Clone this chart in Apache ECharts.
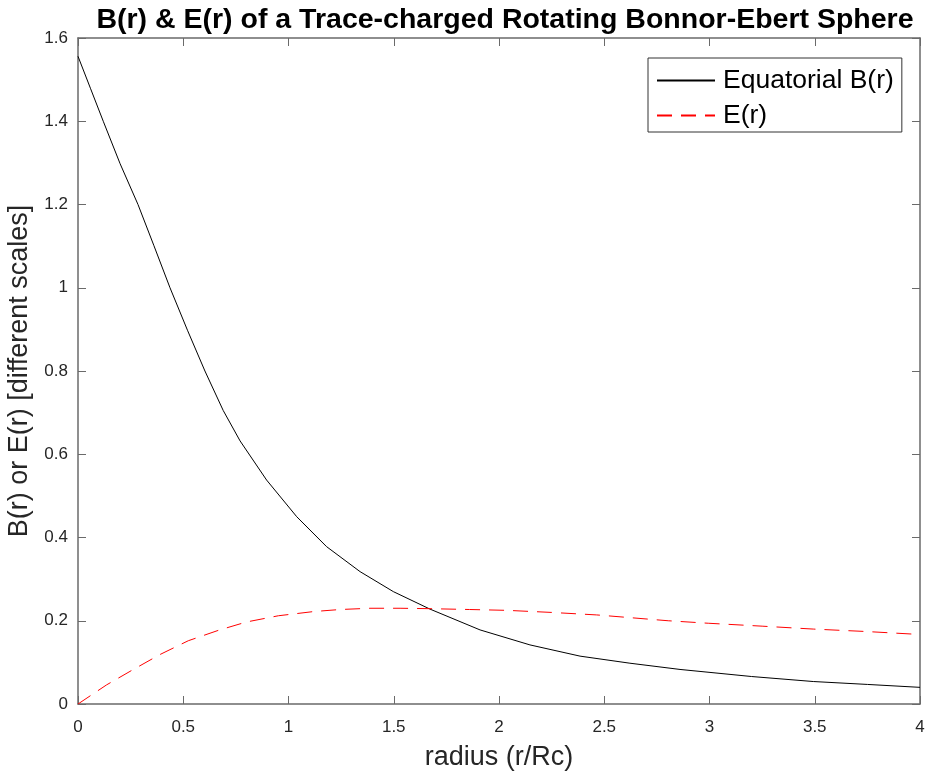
<!DOCTYPE html>
<html>
<head>
<meta charset="utf-8">
<script src="https://cdn.jsdelivr.net/npm/echarts@6/dist/echarts.min.js"></script>
<style>html,body{margin:0;padding:0;background:#fff}#c{width:925px;height:777px}</style>
</head>
<body>
<div id="c"></div>
<script>
// radius values and readings for each curve
const bRadius = [0, 0.06, 0.12, 0.2, 0.285, 0.36, 0.437, 0.52, 0.603, 0.69, 0.770, 0.896, 1.039, 1.181, 1.340, 1.498, 1.672, 1.91, 2.147, 2.385, 2.622, 2.86, 3.2, 3.493, 3.75, 4.0];
const bValues = [1.556, 1.478, 1.40, 1.298, 1.20, 1.102, 1.00, 0.898, 0.80, 0.705, 0.632, 0.538, 0.450, 0.378, 0.318, 0.270, 0.228, 0.178, 0.142, 0.115, 0.098, 0.083, 0.066, 0.054, 0.047, 0.040];
const eRadius = [0, 0.136, 0.263, 0.39, 0.524, 0.667, 0.80, 0.952, 1.118, 1.245, 1.387, 1.53, 1.672, 1.86, 2.037, 2.25, 2.464, 2.804, 2.994, 3.25, 3.493, 3.75, 4.0];
const eValues = [0, 0.046, 0.083, 0.119, 0.152, 0.177, 0.197, 0.212, 0.222, 0.227, 0.230, 0.230, 0.229, 0.227, 0.225, 0.220, 0.214, 0.200, 0.194, 0.187, 0.180, 0.174, 0.167];
const xTicks = [0, 0.5, 1, 1.5, 2, 2.5, 3, 3.5, 4];
const yTicks = [0, 0.2, 0.4, 0.6, 0.8, 1, 1.2, 1.4, 1.6];

const FONT = 'Liberation Sans';
const AX = '#262626';
const pair = (xs, ys) => xs.map((x, i) => [x, ys[i]]);

const chart = echarts.init(document.getElementById('c'), null, {renderer: 'canvas'});
const axisCommon = () => ({
  type: 'value',
  axisLine: {show: true, onZero: false, lineStyle: {color: '#6a6a6a', width: 1.5}},
  axisTick: {show: true, inside: true, length: 8, lineStyle: {color: '#6a6a6a', width: 1}},
  splitLine: {show: false},
});
chart.setOption({
  animation: false,
  backgroundColor: '#fff',
  textStyle: {fontFamily: FONT},
  title: {
    text: 'B(r) & E(r) of a Trace-charged Rotating Bonnor-Ebert Sphere',
    left: 500, top: 1, textAlign: 'center',
    textStyle: {fontFamily: FONT, fontWeight: 'bold', fontSize: 28.5, color: '#000'}
  },
  grid: {left: 78, right: 5, top: 38, bottom: 73, containLabel: false, outerBoundsMode: 'none'},
  legend: {
    orient: 'vertical', left: 648, top: 58,
    padding: [9, 8, 3, 8], itemGap: 8,
    borderColor: '#333', borderWidth: 1, backgroundColor: '#fff',
    itemWidth: 58, itemHeight: 14,
    itemStyle: {opacity: 0, color: 'transparent', borderWidth: 0},
    textStyle: {fontFamily: FONT, fontSize: 26.5, color: '#000', padding: [0, 0, 0, 3]},
    data: ['Equatorial B(r)', 'E(r)']
  },
  xAxis: [
    Object.assign(axisCommon(), {
      min: 0, max: 4, interval: 0.5, position: 'bottom',
      axisLabel: {fontFamily: FONT, fontSize: 17, color: AX, margin: 15,
        formatter: v => xTicks.includes(v) ? String(v) : ''},
      name: 'radius (r/Rc)', nameLocation: 'middle', nameGap: 40,
      nameTextStyle: {fontFamily: FONT, fontSize: 27, color: AX}
    }),
    Object.assign(axisCommon(), {
      min: 0, max: 4, interval: 0.5, position: 'top', axisLabel: {show: false}
    })
  ],
  yAxis: [
    Object.assign(axisCommon(), {
      min: 0, max: 1.6, interval: 0.2, position: 'left',
      axisLabel: {fontFamily: FONT, fontSize: 17, color: AX, margin: 10,
        formatter: v => String(+v.toFixed(1))},
      name: 'B(r) or E(r) [different scales]', nameLocation: 'middle', nameGap: 40,
      nameTextStyle: {fontFamily: FONT, fontSize: 27, color: AX}
    }),
    Object.assign(axisCommon(), {
      min: 0, max: 1.6, interval: 0.2, position: 'right', axisLabel: {show: false}
    })
  ],
  series: [
    {
      name: 'Equatorial B(r)', type: 'line', data: pair(bRadius, bValues),
      showSymbol: false, symbol: 'none', smooth: false,
      lineStyle: {color: '#000', width: 1}, itemStyle: {color: '#000'}
    },
    {
      name: 'E(r)', type: 'line', data: pair(eRadius, eValues),
      showSymbol: false, symbol: 'none', smooth: false,
      lineStyle: {color: '#ff0000', width: 1, type: [15, 9]}, itemStyle: {color: '#ff0000'}
    }
  ]
});
</script>
</body>
</html>
